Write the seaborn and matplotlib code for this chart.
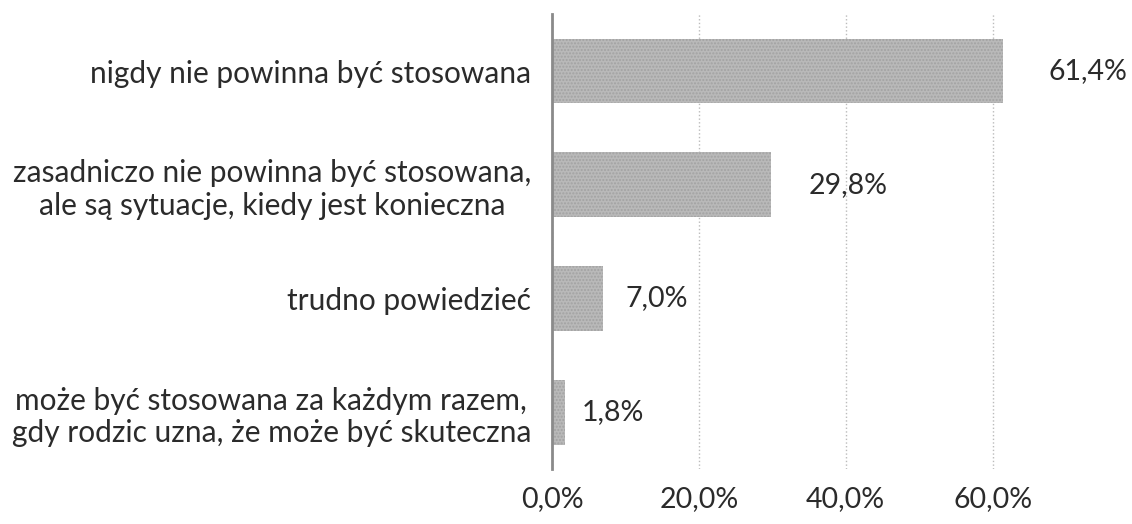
import pandas as pd
import matplotlib.pyplot as plt
import seaborn as sns

# data
categories = [
    'nigdy nie powinna być stosowana',
    'zasadniczo nie powinna być stosowana,\nale są sytuacje, kiedy jest konieczna',
    'trudno powiedzieć',
    'może być stosowana za każdym razem,\ngdy rodzic uzna, że może być skuteczna',
]
values = [61.4, 29.8, 7.0, 1.8]
value_labels = ['61,4%', '29,8%', '7,0%', '1,8%']
x_ticks = [0, 20, 40, 60]
x_tick_labels = ['0,0%', '20,0%', '40,0%', '60,0%']

df = pd.DataFrame({'kategoria': categories, 'procent': values})

sns.set_theme(style='white')
plt.rcParams['font.family'] = ['Lato', 'DejaVu Sans']

fig = plt.figure(figsize=(11.32, 5.24), dpi=100)
ax = fig.add_axes([0.4876, 0.105, 0.4541, 0.868])

sns.barplot(data=df, x='procent', y='kategoria', orient='h', color='#b9b9b9',
            saturation=1, width=0.57, ax=ax, zorder=3)
for p in ax.patches:
    p.set_hatch('.....')
    p.set_edgecolor('#a2a2a2')
    p.set_linewidth(0)

# value labels sit a bit further out for longer bars (like the original)
pads = [33, 27, 16, 12]
for p, lab, pad in zip(ax.patches, value_labels, pads):
    ax.annotate(lab, (p.get_width(), p.get_y() + p.get_height() / 2),
                xytext=(pad, 0), textcoords='offset points',
                ha='left', va='center', fontsize=20.5, color='#2b2b2b')

ax.set_xlim(0, 70)
ax.set_xticks(x_ticks)
ax.set_xticklabels(x_tick_labels, fontsize=20.5, color='#2b2b2b')
ax.tick_params(axis='x', length=0, pad=12)
ax.tick_params(axis='y', length=0, pad=15, labelsize=21.5, labelcolor='#2b2b2b')
for t in ax.get_yticklabels():
    t.set_multialignment('center')
ax.xaxis.grid(True, color='#bbbbbb', linestyle=':', linewidth=1, zorder=0)
ax.yaxis.grid(False)

for side in ['top', 'right', 'bottom']:
    ax.spines[side].set_visible(False)
ax.spines['left'].set_color('#8a8a8a')
ax.spines['left'].set_linewidth(2)
ax.spines['left'].set_zorder(4)

ax.set_xlabel('')
ax.set_ylabel('')

fig.savefig('out.png', dpi=100)
